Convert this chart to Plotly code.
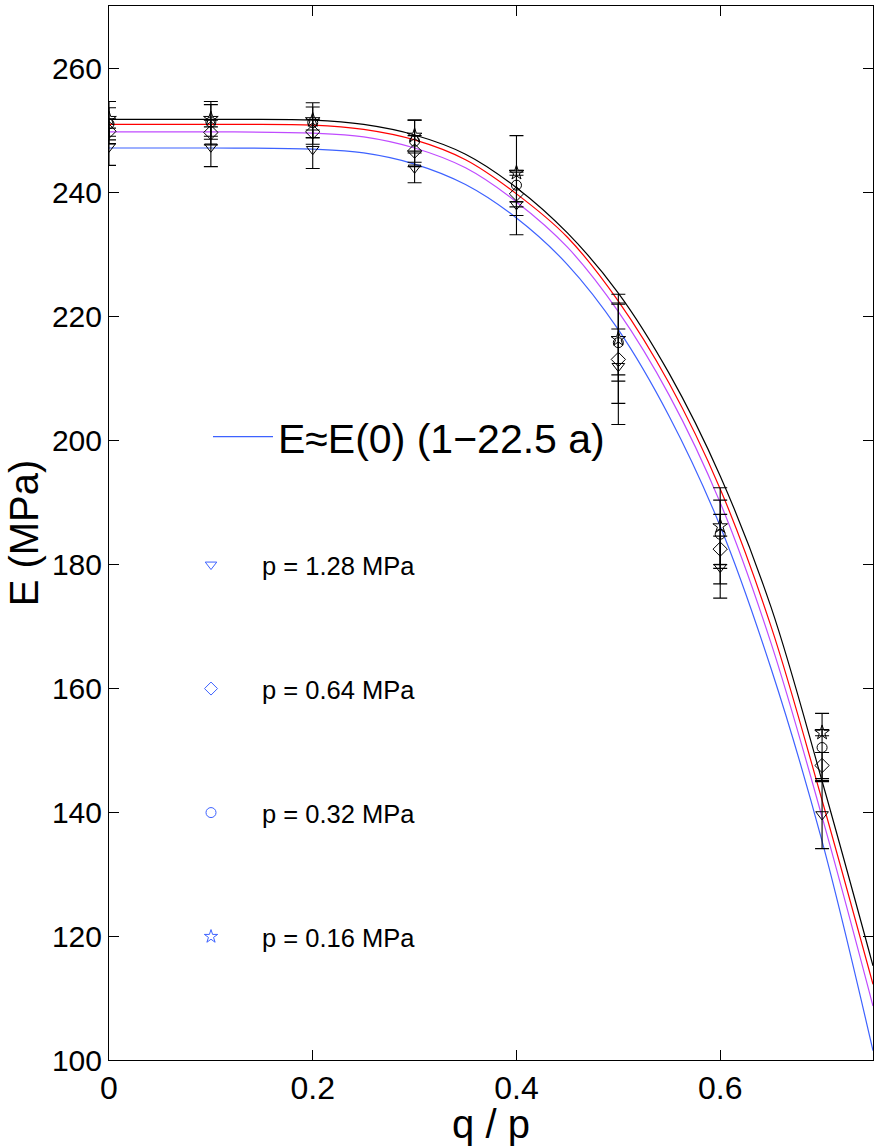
import plotly.graph_objects as go

# ---- data ----
Q_POINTS = [0.0, 0.1, 0.2, 0.3, 0.4, 0.5, 0.6, 0.7]

E_128 = [247.3, 247.3, 246.9, 243.9, 238.0, 211.9, 179.5, 139.6]
E_064 = [249.8, 249.6, 249.7, 246.6, 239.7, 213.0, 182.4, 147.5]
E_032 = [251.0, 251.3, 251.2, 248.2, 241.1, 215.7, 184.8, 150.4]
E_016 = [251.8, 251.8, 251.6, 249.1, 243.1, 216.3, 186.1, 152.8]

ERR_128 = [3.0, 3.2, 3.1, 2.4, 0.4, 6.0, 5.0, 5.5]
ERR_064 = [2.0, 2.0, 2.0, 2.5, 3.5, 10.5, 5.6, 2.1]
ERR_032 = [2.6, 2.8, 2.5, 3.4, 8.0, 6.2, 5.5, 5.5]
ERR_016 = [2.8, 2.8, 2.8, 2.5, 0.4, 5.8, 6.2, 0.5]

Q_FIT = [0.0, 0.1, 0.2, 0.25, 0.3, 0.35, 0.4, 0.45, 0.5, 0.55, 0.6, 0.65, 0.7, 0.75]
FIT_016 = [251.7, 251.7, 251.6, 250.9, 249.2, 246.1, 240.7, 233.4, 223.7, 210.7, 194.2, 173.0, 145.0, 115.2]
FIT_032 = [250.9, 250.9, 250.8, 250.1, 248.4, 245.2, 239.7, 232.7, 222.4, 209.1, 192.1, 169.9, 141.9, 112.2]
FIT_064 = [249.7, 249.7, 249.5, 248.9, 247.1, 243.9, 238.4, 231.1, 220.7, 207.2, 189.9, 167.2, 139.2, 108.7]
FIT_128 = [247.1, 247.1, 246.9, 246.3, 244.5, 241.2, 235.8, 228.3, 217.8, 203.8, 186.1, 163.1, 135.3, 101.5]

SERIES_LABELS = ["p = 1.28 MPa", "p = 0.64 MPa", "p = 0.32 MPa", "p = 0.16 MPa"]
FIT_LABEL = "E\u2248E(0) (1\u221222.5 a)"
X_TICKS = [0, 0.2, 0.4, 0.6]
X_TICK_TEXT = ["0", "0.2", "0.4", "0.6"]
Y_TICKS = [100, 120, 140, 160, 180, 200, 220, 240, 260]

FONT = "Liberation Sans, Arial, Helvetica, sans-serif"
BLUE = "#3d62ff"
PURPLE = "#c04bff"
RED = "#ff0000"
BLACK = "#000000"

fig = go.Figure()

# fitted curves
fits = [(FIT_128, BLUE, True), (FIT_064, PURPLE, False), (FIT_032, RED, False), (FIT_016, BLACK, False)]
for ys, col, show in fits:
    fig.add_trace(go.Scatter(
        x=Q_FIT, y=ys, mode="lines", line=dict(color=col, width=1.2, shape="spline", smoothing=1.0),
        name=FIT_LABEL, showlegend=show, legend="legend", hoverinfo="skip"))

# data points with error bars (black)
symbols = ["triangle-down-open", "diamond-open", "circle-open", "star-open"]
vals = [E_128, E_064, E_032, E_016]
errs = [ERR_128, ERR_064, ERR_032, ERR_016]
sizes = [11, 11, 10, 11]
for ys, er, sym, sz in zip(vals, errs, symbols, sizes):
    fig.add_trace(go.Scatter(
        x=Q_POINTS, y=ys, mode="markers",
        marker=dict(symbol=sym, size=sz, color=BLACK, line=dict(width=1, color=BLACK)),
        error_y=dict(type="data", array=er, visible=True, color=BLACK, thickness=1.1, width=7),
        showlegend=False))

# legend-only entries (blue symbols)
legend_names = ["legend2", "legend3", "legend4", "legend5"]
for lab, sym, lg in zip(SERIES_LABELS, symbols, legend_names):
    fig.add_trace(go.Scatter(
        x=[None], y=[None], mode="markers", name=lab, legend=lg,
        marker=dict(symbol=sym, size=10, color=BLUE, line=dict(width=1, color=BLUE))))

W, H = 879, 1146
ml, mr, mt, mb = 109, 6, 6, 86
pw, ph = W - ml - mr, H - mt - mb

def px_to_paper(xp, yp):
    return (xp - ml) / pw, (H - mb - yp) / ph

leg_common = dict(bgcolor="rgba(0,0,0,0)", borderwidth=0, xanchor="left", yanchor="middle",
                  tracegroupgap=0)
lx, ly = px_to_paper(208, 437)
layout_legends = dict(legend=dict(x=lx, y=ly, itemwidth=60,
                                  font=dict(family=FONT, size=41, color=BLACK), **leg_common))
for lg, ypx in zip(legend_names, [565, 689, 813, 937]):
    lx2, ly2 = px_to_paper(160, ypx)
    layout_legends[lg] = dict(x=lx2, y=ly2, itemwidth=92,
                              font=dict(family=FONT, size=25.5, color=BLACK), **leg_common)

fig.update_layout(
    width=W, height=H,
    margin=dict(l=ml, r=mr, t=mt, b=mb, autoexpand=False),
    paper_bgcolor="white", plot_bgcolor="white",
    font=dict(family=FONT, color=BLACK),
    **layout_legends,
)
fig.update_xaxes(
    range=[0, 0.75], tickvals=X_TICKS, ticktext=X_TICK_TEXT, automargin=False,
    ticks="inside", ticklen=10, tickcolor=BLACK, tickwidth=1,
    showline=True, linecolor=BLACK, linewidth=1, mirror="ticks",
    showgrid=False, zeroline=False,
    tickfont=dict(family=FONT, size=32, color=BLACK),
    title=dict(text="q / p", font=dict(family=FONT, size=40, color=BLACK), standoff=27),
)
fig.update_yaxes(
    range=[100, 270], tickvals=Y_TICKS, automargin=False,
    ticks="inside", ticklen=10, tickcolor=BLACK, tickwidth=1,
    showline=True, linecolor=BLACK, linewidth=1, mirror="ticks",
    showgrid=False, zeroline=False,
    tickfont=dict(family=FONT, size=30, color=BLACK),
    title=dict(text="E (MPa)", font=dict(family=FONT, size=40, color=BLACK), standoff=0),
)

fig.write_html("out.html", config={"displayModeBar": False},
               post_script="document.body.style.margin='0';")
